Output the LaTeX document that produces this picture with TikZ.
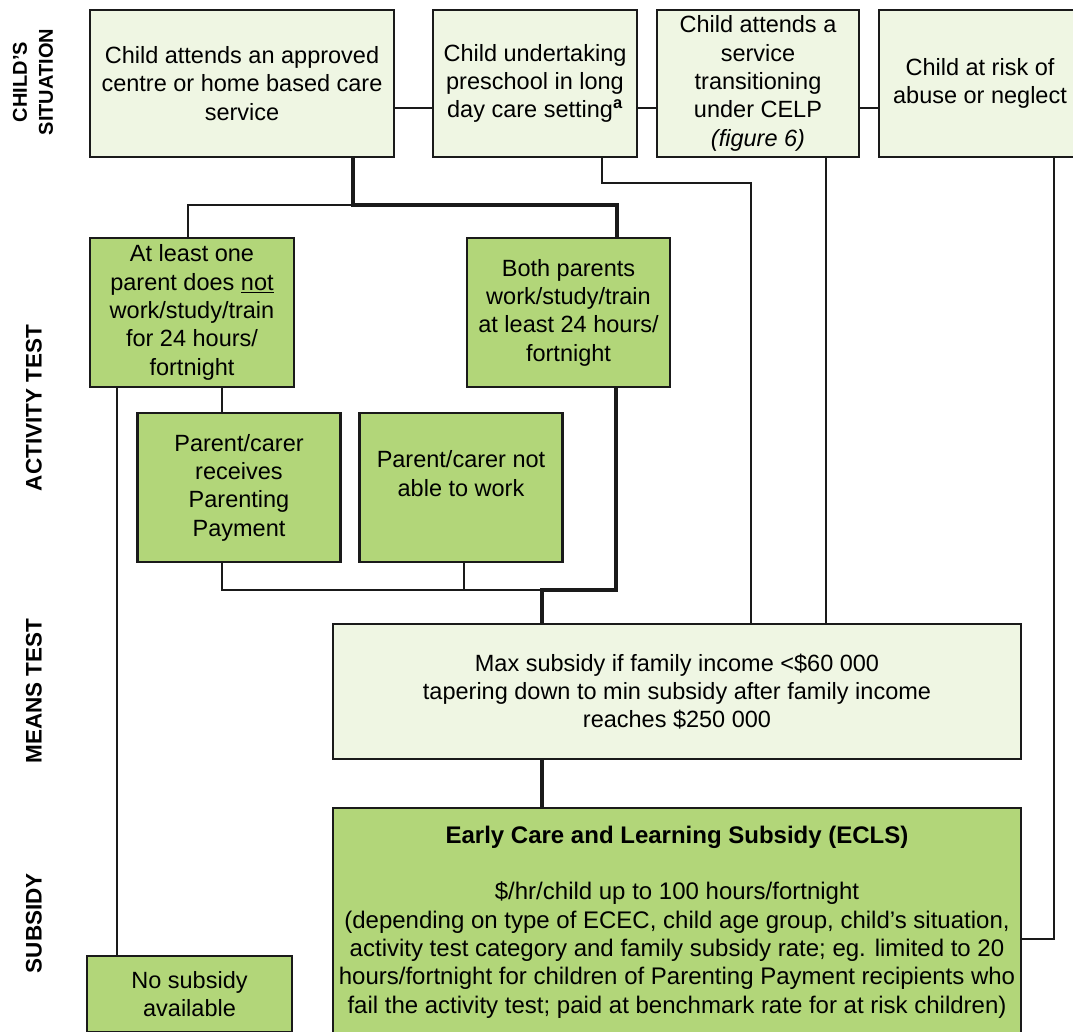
\documentclass[tikz,border=0pt]{standalone}
\usepackage{fontspec}
\setmainfont{Liberation Sans}
\usetikzlibrary{positioning}
\definecolor{light-green}{RGB}{239,246,227}
\definecolor{dark-green}{RGB}{178,214,121}
\definecolor{line-grey}{RGB}{26,26,26}
\newcommand{\boxfont}{\fontsize{23.5}{28.3}\selectfont}
\newcommand{\rowfont}{\fontsize{22.5}{26}\selectfont\bfseries}

\begin{document}
\begin{tikzpicture}[x=1pt, y=-1pt,
palebox/.style={rectangle, draw=line-grey, line width=2.2pt, inner sep=0pt, align=center, font=\boxfont, fill=light-green},
greenbox/.style={palebox, fill=dark-green},
rowlabel/.style={rotate=90, font=\rowfont, align=center},
link/.style={draw=line-grey, line width=1.8pt},
trunk/.style={draw=line-grey, line width=4.5pt}]
\useasboundingbox (0,0) rectangle (1073,1031);
\clip (0,0) rectangle (1073,1031);

% row labels
\node [rowlabel, font=\fontsize{20}{26}\selectfont\bfseries] (lblsit) at (33,82) {CHILD’S\\SITUATION};
\node [rowlabel] (lblact) at (34,408) {ACTIVITY TEST};
\node [rowlabel] (lblmeans) at (34,691) {MEANS TEST};
\node [rowlabel] (lblsub) at (34,923) {SUBSIDY};

%%%%%%%%%%%%%%%%%%%%%%%% child's situation
\node [palebox, minimum width=304pt, minimum height=147pt] (approved) at (242,83.5) {Child attends an approved\\centre or home based care\\service};
\node [palebox, minimum width=204pt, minimum height=147pt] (preschool) at (535,83.5) {Child undertaking\\preschool in long\\day care setting\textsuperscript{\textbf{a}}};
\node [palebox, minimum width=202pt, minimum height=147pt] (celp) at (758,83.5) {Child attends a\\service\\transitioning\\under CELP\\\textit{(figure 6)}};
\node [palebox, minimum width=202pt, minimum height=147pt] (risk) at (980,83.5) {Child at risk of\\abuse or neglect};

% activity test
\node [greenbox, minimum width=204pt, minimum height=149pt] (notwork) at (192,312.5) {At least one\\parent does \underline{not}\\work/study/train\\for 24 hours/\\fortnight};
\node [greenbox, minimum width=203pt, minimum height=149pt] (bothwork) at (568.5,312.5) {Both parents\\work/study/train\\at least 24 hours/\\fortnight};
\node [greenbox, minimum width=203pt, minimum height=149pt] (ppay) at (239,487.5) {Parent/carer\\receives\\Parenting\\Payment};
\node [greenbox, minimum width=203pt, minimum height=149pt] (notable) at (461,487.5) {Parent/carer not\\able to work\\\mbox{}};

% means test and subsidy
\node [palebox, minimum width=688pt, minimum height=135pt] (means) at (677,691.5) {Max subsidy if family income <\$60 000\\tapering down to min subsidy after family income\\reaches \$250 000};
\node [greenbox, minimum width=688pt, minimum height=228pt, font=\fontsize{24}{28.3}\selectfont] (ecls) at (677,922) {\textbf{Early Care and Learning Subsidy (ECLS)}\\\mbox{}\\\$/hr/child up to 100 hours/fortnight\\(depending on type of ECEC, child age group, child’s situation,\\activity test category and family subsidy rate; eg. limited to 20\\hours/fortnight for children of Parenting Payment recipients who\\fail the activity test; paid at benchmark rate for at risk children)};
\node [greenbox, minimum width=205pt, minimum height=76pt] (nosub) at (189.5,994) {No subsidy\\available};

% links between the situations
\coordinate (rowa) at (0,108);
\draw [link] (approved.east |- rowa) -- (preschool.west |- rowa);
\draw [link] (preschool.east |- rowa) -- (celp.west |- rowa);
\draw [link] (celp.east |- rowa) -- (risk.west |- rowa);

% fork under the approved service
\coordinate (fork) at (353,205);
\coordinate (forkr) at (617,205);
\coordinate (forkl) at (188,205);
\draw [trunk] (approved.south -| fork) -- (fork) -- (forkr) -- (bothwork.north -| forkr);
\draw [link] (fork) -- (forkl) -- (notwork.north -| forkl);

% join above the means test
\coordinate (join) at (616,590);
\coordinate (joinm) at (542,590);
\coordinate (pp) at (222,590);
\coordinate (na) at (464,590);
\draw [link] (notwork.south -| pp) -- (ppay.north -| pp);
\draw [link] (ppay.south -| pp) -- (pp) -- (joinm);
\draw [link] (notable.south -| na) -- (na);
\draw [trunk] (bothwork.south -| join) -- (join) -- (joinm) -- (means.north -| joinm);
\draw [trunk] (means.south -| joinm) -- (ecls.north -| joinm);

% no subsidy
\coordinate (ns) at (117,0);
\draw [link] (notwork.south -| ns) -- (nosub.north -| ns);

% other situations
\coordinate (ps) at (602,183);
\coordinate (psr) at (751,183);
\draw [link] (preschool.south -| ps) -- (ps) -- (psr) -- (means.north -| psr);
\coordinate (cl) at (826,0);
\draw [link] (celp.south -| cl) -- (means.north -| cl);
\coordinate (rk) at (1054,939);
\draw [link] (risk.south -| rk) -- (rk) -- (ecls.east |- rk);

\end{tikzpicture}
\end{document}
